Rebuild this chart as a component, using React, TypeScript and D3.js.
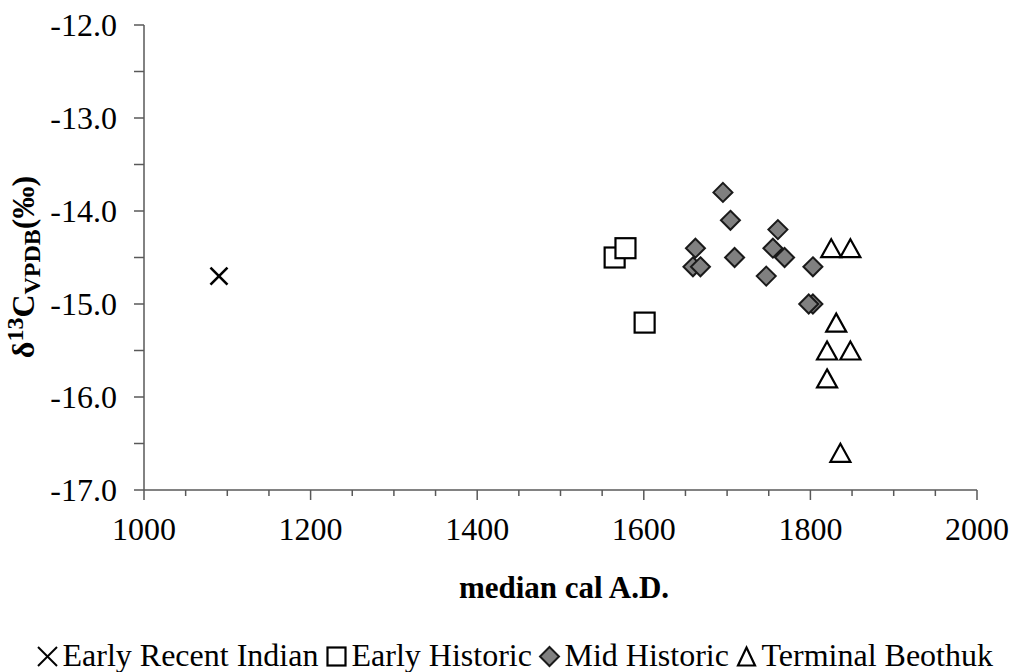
import React, { useLayoutEffect, useRef, useState } from 'react';
import * as d3 from 'd3';

// ---- data ----
const xTickValues = [1000, 1200, 1400, 1600, 1800, 2000];
const yTickValues = [-12, -13, -14, -15, -16, -17];

const earlyRecentIndianYears = [1090];
const earlyRecentIndianD13C = [-14.7];

const earlyHistoricYears = [1565, 1578, 1601];
const earlyHistoricD13C = [-14.5, -14.4, -15.2];

const midHistoricYears = [1695, 1704, 1761, 1662, 1755, 1769, 1709, 1659, 1668, 1803, 1747, 1803, 1798];
const midHistoricD13C = [-13.8, -14.1, -14.2, -14.4, -14.4, -14.5, -14.5, -14.6, -14.6, -14.6, -14.7, -15.0, -15.0];

const terminalBeothukYears = [1825, 1848, 1831, 1820, 1848, 1820, 1836];
const terminalBeothukD13C = [-14.4, -14.4, -15.2, -15.5, -15.5, -15.8, -16.6];

const seriesNames = ['Early Recent Indian', 'Early Historic', 'Mid Historic', 'Terminal Beothuk'];
const seriesKinds = ['cross', 'square', 'diamond', 'triangle'];

const xTitle = 'median cal A.D.';

const FONT = 'Liberation Serif';
const AXIS = '#595959';

function Marker({ kind, cx, cy, legend = false }: { kind: string; cx: number; cy: number; legend?: boolean }) {
  if (kind === 'cross') {
    const r = legend ? 9.5 : 8.5;
    return (
      <g stroke="#000" strokeWidth={legend ? 2 : 2.6} strokeLinecap="butt">
        <line x1={cx - r} y1={cy - r} x2={cx + r} y2={cy + r} />
        <line x1={cx - r} y1={cy + r} x2={cx + r} y2={cy - r} />
      </g>
    );
  }
  if (kind === 'square') {
    const s = legend ? 18 : 20;
    return <rect x={cx - s / 2} y={cy - s / 2} width={s} height={s} fill="#fff" stroke="#000" strokeWidth={2.2} />;
  }
  if (kind === 'diamond') {
    const r = 9.5;
    return (
      <path d={`M${cx},${cy - r}L${cx + r},${cy}L${cx},${cy + r}L${cx - r},${cy}Z`} fill="#808080" stroke="#1a1a1a" strokeWidth={2} />
    );
  }
  const w = legend ? 17 : 20;
  const h = 18;
  return (
    <path d={`M${cx},${cy - h / 2}L${cx + w / 2},${cy + h / 2}L${cx - w / 2},${cy + h / 2}Z`} fill="#fff" stroke="#000" strokeWidth={2.2} strokeLinejoin="miter" />
  );
}

export default function App() {
  const W = 1011;
  const H = 672;
  const x = d3.scaleLinear().domain([1000, 2000]).range([144, 977]);
  const y = d3.scaleLinear().domain([-17, -12]).range([490, 25]);

  const xMinor = d3.range(1000, 2001, 50).filter((v) => v % 200 !== 0);
  const yAll = d3.range(-17, -11.99, 0.5);

  const series = [
    { kind: seriesKinds[0], xs: earlyRecentIndianYears, ys: earlyRecentIndianD13C },
    { kind: seriesKinds[1], xs: earlyHistoricYears, ys: earlyHistoricD13C },
    { kind: seriesKinds[2], xs: midHistoricYears, ys: midHistoricD13C },
    { kind: seriesKinds[3], xs: terminalBeothukYears, ys: terminalBeothukD13C },
  ];

  // legend text widths measured after mount (initial estimate: Times metrics at 32px)
  const [widths, setWidths] = useState<number[]>([256, 180, 164, 231]);
  const textRefs = useRef<(SVGTextElement | null)[]>([]);
  useLayoutEffect(() => {
    const w = textRefs.current.map((t, i) => (t ? t.getComputedTextLength() : widths[i]));
    if (w.some((v, i) => Math.abs(v - widths[i]) > 0.5)) setWidths(w);
  });

  const markerW = 20;
  const gapIn = 5;
  const gapOut = 8;
  const total = widths.reduce((a, b) => a + markerW + gapIn + b, 0) + gapOut * (seriesNames.length - 1);
  let cur = 515 - total / 2;
  const legendLayout = seriesNames.map((n, i) => {
    const mx = cur + markerW / 2;
    const tx = cur + markerW + gapIn;
    cur = tx + widths[i] + gapOut;
    return { name: n, mx, tx, kind: seriesKinds[i] };
  });

  const ts = { fontFamily: FONT };

  return (
    <svg width={W} height={H} style={{ position: 'absolute', left: 0, top: 0, background: '#fff' }}>
      <rect width={W} height={H} fill="#fff" />
      {/* y axis */}
      <line x1={x(1000)} x2={x(1000)} y1={y(-12)} y2={y(-17)} stroke={AXIS} strokeWidth={1.5} />
      {yAll.map((v) => (
        <line key={`yt${v}`} x1={x(1000) - 10} x2={x(1000)} y1={y(v)} y2={y(v)} stroke={AXIS} strokeWidth={1.5} />
      ))}
      {yTickValues.map((v) => (
        <text key={`yl${v}`} x={117} y={y(v) + 11} textAnchor="end" fontSize={32} style={ts}>
          {d3.format('.1f')(v).replace('−', '-')}
        </text>
      ))}
      {/* x axis */}
      <line x1={x(1000)} x2={x(2000)} y1={y(-17)} y2={y(-17)} stroke={AXIS} strokeWidth={1.5} />
      {xTickValues.map((v) => (
        <line key={`xt${v}`} x1={x(v)} x2={x(v)} y1={y(-17)} y2={y(-17) + 10} stroke={AXIS} strokeWidth={1.5} />
      ))}
      {xMinor.map((v) => (
        <line key={`xm${v}`} x1={x(v)} x2={x(v)} y1={y(-17)} y2={y(-17) + 6} stroke={AXIS} strokeWidth={1.5} />
      ))}
      {xTickValues.map((v) => (
        <text key={`xl${v}`} x={x(v)} y={540} textAnchor="middle" fontSize={32} style={ts}>
          {String(v)}
        </text>
      ))}
      {/* titles */}
      <text x={564} y={598} textAnchor="middle" fontSize={31} fontWeight="bold" style={ts}>
        {xTitle}
      </text>
      <text transform={`translate(34,267) rotate(-90)`} textAnchor="middle" fontSize={32} fontWeight="bold" style={ts}>
        δ<tspan fontSize={24} dy={-11}>13</tspan>
        <tspan fontSize={32} dy={11}>C</tspan>
        <tspan fontSize={24} dy={6}>VPDB</tspan>
        <tspan fontSize={32} dy={-6}>(‰)</tspan>
      </text>
      {/* points */}
      {series.map((s, si) =>
        s.xs.map((xv, i) => <Marker key={`p${si}-${i}`} kind={s.kind} cx={x(xv)} cy={y(s.ys[i])} />)
      )}
      {/* legend */}
      {legendLayout.map((l, i) => (
        <g key={l.name}>
          <Marker kind={l.kind} cx={l.mx} cy={656.5} legend />
          <text ref={(el) => { textRefs.current[i] = el; }} x={l.tx} y={666} fontSize={32} style={ts}>
            {l.name}
          </text>
        </g>
      ))}
    </svg>
  );
}
